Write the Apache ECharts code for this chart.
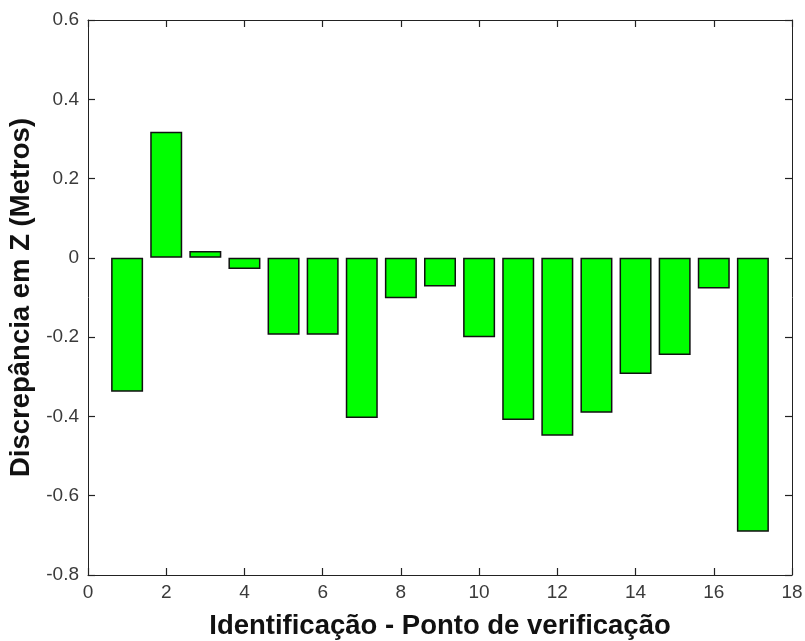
<!DOCTYPE html>
<html><head><meta charset="utf-8">
<script src="https://cdn.jsdelivr.net/npm/echarts@6/dist/echarts.min.js"></script>
<style>html,body{margin:0;padding:0;background:#fff}#c{width:805px;height:641px}</style>
</head><body><div id="c"></div>
<script>
const pointIds = [1,2,3,4,5,6,7,8,9,10,11,12,13,14,15,16,17];
const discrepancy = [-0.338,0.318,0.017,-0.028,-0.194,-0.194,-0.404,-0.102,-0.072,-0.200,-0.409,-0.449,-0.391,-0.293,-0.245,-0.077,-0.691];
const xTitle = 'Identificação - Ponto de verificação';
const yTitle = 'Discrepância em Z (Metros)';

const chart = echarts.init(document.getElementById('c'));
const font = 'Liberation Sans, Arial, sans-serif';
const lbl = {fontFamily:font, fontSize:19, color:'#3a3a3a'};
const line = {show:true, onZero:false, lineStyle:{color:'#222', width:1}};
const tick = {show:true, inside:true, length:7, lineStyle:{color:'#222', width:1.2}};
const titleStyle = {fontFamily:font, fontSize:27.5, fontWeight:'bold', color:'#111'};
chart.setOption({
  animation:false,
  backgroundColor:'#fff',
  grid:{left:88, top:20, right:13, bottom:66, containLabel:false, outerBoundsMode:'none'},
  xAxis:[
    {type:'value', min:0, max:18, interval:2, position:'bottom', axisLine:line, axisTick:tick, splitLine:{show:false},
     axisLabel:Object.assign({margin:8}, lbl),
     name:xTitle, nameLocation:'middle', nameGap:37, nameTextStyle:titleStyle},
    {type:'value', min:0, max:18, interval:2, position:'top', axisLine:line, axisTick:tick, axisLabel:{show:false}, splitLine:{show:false}}
  ],
  yAxis:[
    {type:'value', min:-0.8, max:0.6, interval:0.2, position:'left', axisLine:line, axisTick:tick, splitLine:{show:false},
     axisLabel:Object.assign({margin:9, formatter:v=>String(+v.toFixed(1))}, lbl),
     name:yTitle, nameLocation:'middle', nameGap:46, nameTextStyle:titleStyle},
    {type:'value', min:-0.8, max:0.6, interval:0.2, position:'right', axisLine:line, axisTick:tick, axisLabel:{show:false}, splitLine:{show:false}}
  ],
  series:[{
    type:'bar', xAxisIndex:0, yAxisIndex:0,
    data:pointIds.map((id,i)=>[id, discrepancy[i]]),
    barWidth:32,
    itemStyle:{color:'#00ff00', borderColor:'#111', borderWidth:1.5}
  }]
});
</script></body></html>
